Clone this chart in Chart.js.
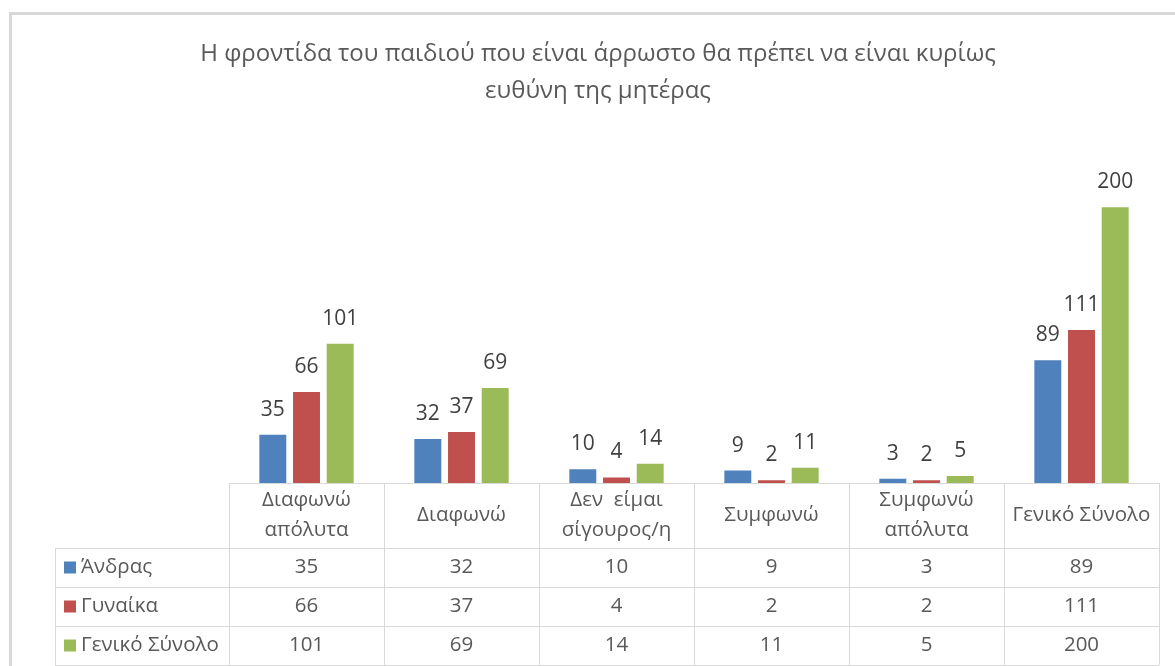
<!DOCTYPE html>
<html>
<head>
<meta charset="utf-8">
<script src="https://cdn.jsdelivr.net/npm/chart.js@4.4.0/dist/chart.umd.min.js"></script>
<style>
	html, body { margin: 0; padding: 0; background: #fff; }
	#wrap { width: 1175px; height: 666px; }
</style>
</head>
<body>
<div id="wrap"><canvas id="myChart" width="1175" height="666"></canvas></div>
<script>
// categories (two-line where the original wraps)
const categories = [
	['Διαφωνώ', 'απόλυτα'],
	['Διαφωνώ'],
	['Δεν  είμαι', 'σίγουρος/η'],
	['Συμφωνώ'],
	['Συμφωνώ', 'απόλυτα'],
	['Γενικό Σύνολο']
];
const seriesNames = ['Άνδρας', 'Γυναίκα', 'Γενικό Σύνολο'];
const andras = [35, 32, 10, 9, 3, 89];
const gynaika = [66, 37, 4, 2, 2, 111];
const synolo = [101, 69, 14, 11, 5, 200];
const colors = ['#4F81BD', '#C0504D', '#9BBB59'];
const titleLines = ['Η φροντίδα του παιδιού που είναι άρρωστο θα πρέπει να είναι κυρίως', 'ευθύνη της μητέρας'];

const FONT = '"Open Sans", "Noto Sans", sans-serif';
const gridColor = '#d9d9d9';

// draws frame, value labels and the data table under the bars
const tablePlugin = {
	id: 'tablePlugin',
	afterDraw(chart) {
		const ctx = chart.ctx;
		const area = chart.chartArea;
		const xs = chart.scales.x;
		const series = [andras, gynaika, synolo];
		ctx.save();

		// outer frame
		ctx.fillStyle = '#d9d9d9';
		ctx.fillRect(9, 12, 1166, 3);
		ctx.fillRect(9, 12, 3, 654);

		// value labels
		ctx.fillStyle = '#404040';
		ctx.font = '21px ' + FONT;
		ctx.textAlign = 'center';
		ctx.textBaseline = 'middle';
		chart.data.datasets.forEach(function (ds, i) {
			var meta = chart.getDatasetMeta(i);
			meta.data.forEach(function (bar, j) {
				ctx.fillText(String(ds.data[j]), bar.x, bar.y - 25);
			});
		});

		// table geometry
		var left = area.left, right = area.right, base = area.bottom;
		var step = (right - left) / categories.length;
		var headBottom = base + 65;
		var rowH = 39;
		var labelLeft = left - 174;
		var bottom = headBottom + rowH * 3;

		ctx.strokeStyle = gridColor;
		ctx.lineWidth = 1;
		ctx.beginPath();
		ctx.moveTo(left, base + 0.5); ctx.lineTo(right, base + 0.5);
		for (var r = 0; r <= 3; r++) {
			var yy = Math.round(headBottom + r * rowH) + 0.5;
			ctx.moveTo(labelLeft, yy); ctx.lineTo(right, yy);
		}
		ctx.moveTo(labelLeft + 0.5, headBottom); ctx.lineTo(labelLeft + 0.5, bottom);
		for (var c = 0; c <= categories.length; c++) {
			var xx = Math.round(left + c * step) + 0.5;
			ctx.moveTo(xx, base); ctx.lineTo(xx, bottom);
		}
		ctx.stroke();

		// header texts
		ctx.fillStyle = '#595959';
		ctx.font = '20.5px ' + FONT;
		categories.forEach(function (lines, j) {
			var cx = xs.getPixelForValue(j);
			var mid = base + 32.5;
			lines.forEach(function (t, k) {
				ctx.fillText(t, cx, mid + (k - (lines.length - 1) / 2) * 30);
			});
		});

		// rows
		series.forEach(function (vals, r) {
			var cy = headBottom + rowH * r + rowH / 2;
			ctx.fillStyle = colors[r];
			ctx.fillRect(labelLeft + 9, cy - 6, 12, 12);
			ctx.fillStyle = '#595959';
			ctx.textAlign = 'left';
			ctx.fillText(seriesNames[r], labelLeft + 26, cy);
			ctx.textAlign = 'center';
			vals.forEach(function (v, j) {
				ctx.fillText(String(v), xs.getPixelForValue(j), cy);
			});
		});
		ctx.restore();
	}
};

const config = {
	type: 'bar',
	data: {
		labels: categories,
		datasets: seriesNames.map(function (name, i) {
			return {
				label: name,
				data: [andras, gynaika, synolo][i],
				backgroundColor: colors[i],
				borderWidth: 0,
				categoryPercentage: 0.652,
				barPercentage: 0.8
			};
		})
	},
	options: {
		responsive: false,
		animation: false,
		devicePixelRatio: 1,
		layout: { padding: { left: 37, right: 16, top: 0, bottom: 0 } },
		scales: {
			x: {
				grid: { display: false },
				border: { display: false },
				ticks: { display: false },
				afterFit: function (scale) { scale.height = 183; }
			},
			y: {
				min: 0,
				max: 250,
				grid: { display: false },
				border: { display: false },
				ticks: { display: false },
				afterFit: function (scale) { scale.width = 192; }
			}
		},
		plugins: {
			legend: { display: false },
			tooltip: { enabled: false },
			title: {
				display: true,
				text: titleLines,
				color: '#595959',
				font: { family: FONT, size: 24, weight: 'normal', lineHeight: 1.55 },
				padding: { top: 35.5, bottom: 28.5 }
			}
		}
	},
	plugins: [tablePlugin]
};

new Chart(document.getElementById('myChart'), config);
</script>
</body>
</html>
